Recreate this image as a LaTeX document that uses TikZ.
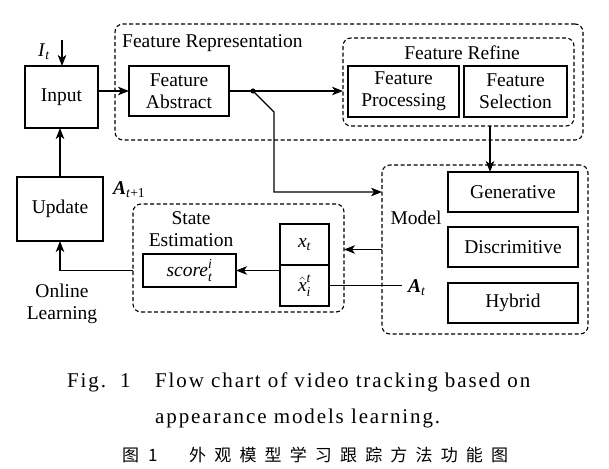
\documentclass[tikz,border=0pt]{standalone}
\usepackage{amsmath}
\usepackage{fontspec}
\setmainfont{Liberation Serif}
\newfontfamily\cjk[LetterSpace=48]{Noto Sans CJK SC}
\newfontfamily\capfont[LetterSpace=9]{Liberation Serif}
\usetikzlibrary{arrows.meta}
\begin{document}
\begin{tikzpicture}[x=1pt,y=-1pt,
  font=\fontsize{19.5}{22}\selectfont,
  box/.style={draw, line width=1.1pt, inner sep=0pt, outer sep=0pt, align=center},
  grp/.style={draw, line width=1.1pt, dash pattern=on 4pt off 2.5pt, rounded corners=8pt, inner sep=0pt, outer sep=0pt},
  arr/.style={-{Stealth[length=11pt,width=8.5pt,inset=3pt]}, line width=1.1pt},
  ln/.style={line width=1.1pt},
  lbl/.style={inner sep=0pt, align=center},
  captxt/.style={inner sep=0pt, anchor=base west, font=\capfont\fontsize{21}{24}\selectfont},
  cjktxt/.style={inner sep=0pt, anchor=base west, font=\cjk\fontsize{17}{20}\selectfont}]
\useasboundingbox (0,0) rectangle (609,468);

% group boxes
\node[grp, minimum width=468pt, minimum height=116pt] (frep) at (349,82) {};
\node[grp, minimum width=231pt, minimum height=88pt] (fref) at (458.5,82) {};
\node[grp, minimum width=206pt, minimum height=169pt] (model) at (485,249.5) {};
\node[grp, minimum width=211pt, minimum height=108pt] (se) at (238.5,258) {};

% boxes
\node[box, minimum width=73pt, minimum height=62pt] (input) at (61.5,97) {Input};
\node[box, minimum width=100pt, minimum height=50pt] (fa) at (179,91) {Feature\\Abstract};
\node[box, minimum width=111pt, minimum height=51pt] (fp) at (403.5,91.5) {Feature\\Processing};
\node[box, minimum width=103pt, minimum height=51pt] (fs) at (515.5,91.5) {Feature\\Selection};
\node[box, minimum width=130pt, minimum height=40pt] (gen) at (513,192) {Generative};
\node[box, minimum width=130pt, minimum height=40pt] (dis) at (513,247) {Discrimitive};
\node[box, minimum width=130pt, minimum height=40pt] (hyb) at (513,303) {Hybrid};
\node[box, minimum width=86pt, minimum height=64pt] (update) at (60,209) {Update};
\node[box, minimum width=93pt, minimum height=33pt] (score) at (189.5,270.5) {\textit{score}$^{\textit{i}}_{\textit{t}}$};
\node[box, minimum width=49pt, minimum height=41pt] (xt) at (304.5,244.5) {\textit{x}$_{\textit{t}}$};
\node[box, minimum width=49pt, minimum height=41pt] (xh) at (304.5,285.5) {$\hat{\text{\textit{x}}}^{\textit{t}}_{\textit{i}}$};

% labels
\node[lbl, anchor=west] (lfrep) at (122,43) {Feature Representation};
\node[lbl] (lfref) at (462,53) {Feature Refine};
\node[lbl] (lmodel) at (416,218) {Model};
\node[lbl] (lse) at (191,229) {State\\Estimation};
\node[lbl] (lol) at (62,304) {Online\\Learning};
\node[lbl] (lit) at (44,52) {\textit{I}\textsubscript{\textit{t}}};
\node[lbl, anchor=west] (lat1) at (113,190) {\textbf{\textit{A}}\textsubscript{\textit{t}+1}};
\node[lbl, anchor=west] (lat) at (408,288) {\textbf{\textit{A}}\textsubscript{\textit{t}}};

% coordinates
\coordinate (itop) at (62,40);
\coordinate (dot) at (253,91);
\coordinate (kink) at (274,112);
\coordinate (bend) at (274,192);
\coordinate (c1) at (490,0);
\coordinate (atend) at (402,0);

% connectors
\draw[arr] (itop) -- (input.north -| itop);
\draw[arr] (input.east |- fa.west) -- (fa.west);
\draw[ln] (fa.east) -- (dot);
\draw[arr] (dot) -- (fref.west |- dot);
\fill (dot) circle (2.6pt);
\draw[arr] (dot) -- (kink) -- (bend) -- (model.west |- bend);
\draw[arr] (fref.south -| c1) -- (gen.north -| c1);
\draw[arr] (model.west) -- (se.east |- model.west);
\draw[ln] (xh.east) -- (xh.east -| atend);
\draw[arr] (xh.west |- score.east) -- (score.east);
\draw[arr] (se.west |- score.east) -- (update.south |- score.east) -- (update.south);
\draw[arr] (update.north) -- (input.south -| update.north);

% caption
\node[captxt] (cap1) at (67,387) {Fig.};
\node[captxt] (cap1n) at (120,387) {1};
\node[captxt] (cap1b) at (155,387) {Flow chart of video tracking based on};
\node[captxt] (cap2) at (155,423) {appearance models learning.};
\node[cjktxt] (cap3) at (122,461) {图};
\node[cjktxt] (cap3n) at (148,461) {1};
\node[cjktxt] (cap3b) at (189,461) {外观模型学习跟踪方法功能图};
\end{tikzpicture}
\end{document}
